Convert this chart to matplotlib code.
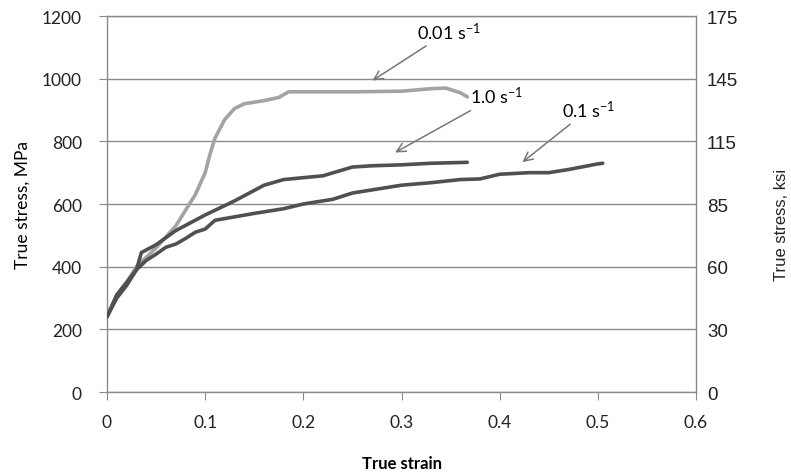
import matplotlib
matplotlib.use("Agg")
import matplotlib.pyplot as plt

plt.rcParams["mathtext.fontset"] = "custom"
plt.rcParams["mathtext.rm"] = "Lato"
plt.rcParams["mathtext.it"] = "Lato:italic"
plt.rcParams["mathtext.bf"] = "Lato:bold"

# --- data ---
strain_001 = [0.0, 0.01, 0.02, 0.03, 0.05, 0.07, 0.08, 0.09, 0.1, 0.105, 0.11, 0.12, 0.13, 0.14,
              0.16, 0.175, 0.185, 0.25, 0.3, 0.33, 0.345, 0.36, 0.367]
stress_001 = [240, 310, 350, 400, 460, 530, 580, 630, 700, 760, 810, 870, 905, 920,
              930, 940, 958, 958, 960, 968, 970, 955, 942]

strain_10 = [0.0, 0.01, 0.02, 0.03, 0.035, 0.05, 0.07, 0.1, 0.13, 0.16, 0.18, 0.22, 0.25,
             0.27, 0.3, 0.33, 0.367]
stress_10 = [240, 300, 340, 390, 445, 470, 515, 565, 610, 660, 678, 690, 718,
             722, 725, 730, 733]

strain_01 = [0.0, 0.01, 0.02, 0.03, 0.04, 0.05, 0.06, 0.07, 0.08, 0.09, 0.1, 0.11, 0.15,
             0.18, 0.2, 0.23, 0.25, 0.28, 0.3, 0.33, 0.36, 0.38, 0.4, 0.43, 0.45, 0.47,
             0.5, 0.505]
stress_01 = [240, 310, 350, 390, 420, 440, 462, 472, 490, 510, 520, 548, 570,
             585, 600, 615, 635, 650, 660, 668, 678, 680, 695, 700, 700, 710,
             728, 730]

x_ticks = [0, 0.1, 0.2, 0.3, 0.4, 0.5, 0.6]
x_tick_labels = ["0", "0.1", "0.2", "0.3", "0.4", "0.5", "0.6"]
y_ticks = [0, 200, 400, 600, 800, 1000, 1200]
ksi_labels = ["0", "30", "60", "85", "115", "145", "175"]

fig = plt.figure(figsize=(7.91, 4.77), dpi=100)
ax = fig.add_axes([107/791, 1-393/477, (696-107)/791, (393-17)/477])

light = "#a3a3a3"
dark = "#505050"
ax.plot(strain_001, stress_001, color=light, lw=2.6, zorder=3, solid_capstyle="round")
ax.plot(strain_10, stress_10, color=dark, lw=2.6, zorder=3, solid_capstyle="round")
ax.plot(strain_01, stress_01, color=dark, lw=2.6, zorder=3, solid_capstyle="round")

ax.set_xlim(0, 0.6)
ax.set_ylim(0, 1200)
ax.set_xticks(x_ticks)
ax.set_xticklabels(x_tick_labels)
ax.set_yticks(y_ticks)
ax.set_yticklabels([str(v) for v in y_ticks])
ax.yaxis.grid(True, color="#8a8a8a", lw=1.0)
ax.set_axisbelow(True)
for s in ax.spines.values():
    s.set_color("#8a8a8a")
    s.set_linewidth(1.0)
ax.tick_params(axis="both", direction="out", color="#8a8a8a", length=6,
               labelsize=12.5, labelcolor="#222222")
ax.tick_params(axis="y", pad=12)
ax.tick_params(axis="x", pad=10)
for lab in ax.get_xticklabels() + ax.get_yticklabels():
    lab.set_family("Lato")

ax.set_xlabel("True strain", fontsize=12, fontweight="bold", family="Lato", labelpad=18)
ax.set_ylabel("True stress, MPa", fontsize=12.5, family="Lato", labelpad=8)

ax2 = ax.twinx()
ax2.set_ylim(0, 1200)
ax2.set_yticks(y_ticks)
ax2.set_yticklabels(ksi_labels)
ax2.tick_params(axis="y", length=0, labelsize=13.5, labelcolor="#222222", pad=8)
for lab in ax2.get_yticklabels():
    lab.set_family("Liberation Sans")
for s in ax2.spines.values():
    s.set_visible(False)
fig.text(782/791, 1-225/477, "True stress, ksi", fontsize=12, family="Liberation Sans",
         rotation=90, ha="center", va="center", color="#222222")

arrow_kw = dict(arrowstyle="->", color="#777777", lw=1.1, mutation_scale=16)
ax.annotate("0.01 s$^{-1}$", xy=(0.268, 989), xytext=(0.316, 1152), fontsize=13,
            family="Lato", va="center", ha="left", arrowprops=arrow_kw, zorder=5)
ax.annotate("1.0 s$^{-1}$", xy=(0.291, 760), xytext=(0.370, 945), fontsize=13,
            family="Lato", va="center", ha="left", arrowprops=arrow_kw, zorder=5)
ax.annotate("0.1 s$^{-1}$", xy=(0.421, 728), xytext=(0.464, 903), fontsize=13,
            family="Lato", va="center", ha="left", arrowprops=arrow_kw, zorder=5)

fig.savefig("out.png", dpi=100)
